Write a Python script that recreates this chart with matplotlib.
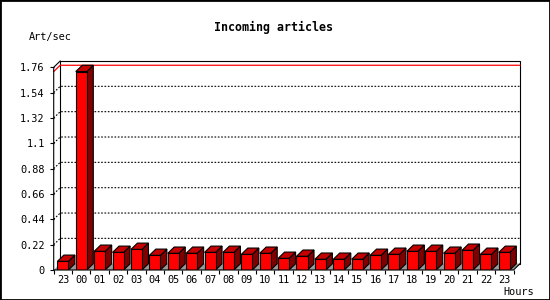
import matplotlib.pyplot as plt
from matplotlib.patches import Polygon, Rectangle

hours = ["23", "00", "01", "02", "03", "04", "05", "06", "07", "08", "09", "10",
         "11", "12", "13", "14", "15", "16", "17", "18", "19", "20", "21", "22", "23"]
rates = [0.075, 1.723, 0.162, 0.153, 0.179, 0.127, 0.145, 0.145, 0.153, 0.153,
         0.136, 0.145, 0.101, 0.119, 0.093, 0.093, 0.093, 0.127, 0.136, 0.162,
         0.162, 0.145, 0.171, 0.136, 0.153]
yticks = [0, 0.22, 0.44, 0.66, 0.88, 1.1, 1.32, 1.54, 1.76]
ytick_labels = ["0", "0.22", "0.44", "0.66", "0.88", "1.1", "1.32", "1.54", "1.76"]

mono = "DejaVu Sans Mono"
n = len(rates)
ymax = yticks[-1]
D = 0.353      # depth in x units
DY = 0.0546    # depth in y units
w = 0.3        # half bar width

fig = plt.figure(figsize=(5.5, 3), dpi=100)
ax = fig.add_axes([53.7 / 550, 30 / 300, 466.3 / 550, 209 / 300])
ax.set_xlim(-0.5, n - 0.5 + D)
ax.set_ylim(0, ymax + DY)
for s in ax.spines.values():
    s.set_visible(False)

lw = 0.8
# back wall
ax.add_patch(Rectangle((-0.5 + D, DY), n, ymax, fc="white", ec="black", lw=lw,
                       zorder=1, clip_on=False))
# grid on back wall
for v in yticks[1:-1]:
    ax.plot([-0.5, -0.5 + D, n - 0.5 + D], [v, v + DY, v + DY], color="black",
            lw=0.8, ls=(0, (1.5, 1.5)), zorder=2)
# max line
vmax = max(rates)
ax.plot([-0.5, -0.5 + D, n - 0.5 + D], [vmax, vmax + DY, vmax + DY], color="red",
        lw=0.9, zorder=2, clip_on=False)
# floor
ax.add_patch(Polygon([(-0.5, 0), (n - 0.5, 0), (n - 0.5 + D, DY), (-0.5 + D, DY)],
                     closed=True, fc="#999999", ec="none", zorder=3))

# bars
for i, v in enumerate(rates):
    ax.add_patch(Polygon([(i + w, 0), (i + w + D, DY), (i + w + D, v + DY), (i + w, v)],
                         closed=True, fc="#800000", ec="black", lw=lw, zorder=4))
    ax.add_patch(Polygon([(i - w, v), (i + w, v), (i + w + D, v + DY), (i - w + D, v + DY)],
                         closed=True, fc="#c40000", ec="black", lw=lw, zorder=4))
    ax.add_patch(Rectangle((i - w, 0), 2 * w, v, fc="#ff0000", ec="black", lw=lw, zorder=5))

# front axes
ax.plot([-0.5 + D, -0.5, -0.5, n - 0.5, n - 0.5 + D],
        [ymax + DY, ymax, 0, 0, DY], color="black", lw=lw, zorder=6, clip_on=False)

ax.set_yticks(yticks)
ax.set_yticklabels(ytick_labels, fontfamily=mono, fontsize=7.4)
ax.tick_params(axis="y", length=3, width=lw, pad=3.4)
ax.set_xticks(range(n))
ax.set_xticklabels(hours, fontfamily=mono, fontsize=7.4)
ax.set_xticks([i - 0.5 for i in range(n + 1)], minor=True)
ax.tick_params(axis="x", which="major", length=0, pad=3.5)
ax.tick_params(axis="x", which="minor", length=3, width=lw)

fig.text(273.5 / 550, 1 - 27 / 300, "Incoming articles", fontfamily=mono,
         fontweight="bold", fontsize=8.4, ha="center", va="center")
fig.text(50.5 / 550, 1 - 37.3 / 300, "Art/sec", fontfamily=mono, fontsize=7.4,
         ha="center", va="center")
fig.text(519 / 550, 1 - 291.7 / 300, "Hours", fontfamily=mono, fontsize=7.4,
         ha="center", va="center")

fig.patches.append(Rectangle((0, 0), 1, 1, transform=fig.transFigure, fill=False,
                             ec="black", lw=2))

fig.savefig("out.png", dpi=100)
